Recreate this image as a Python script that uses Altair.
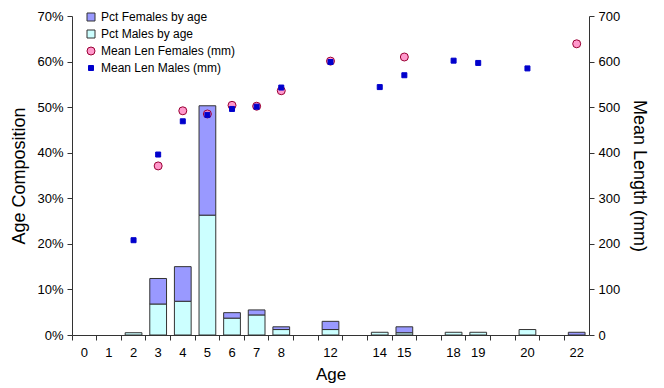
import altair as alt
import pandas as pd

slot_labels = ["0", "1", "2", "3", "4", "5", "6", "7", "8", "", "12", "", "14", "15", "", "18", "19", "", "20", "", "22"]
pct_males = [0, 0, 0.5, 6.8, 7.4, 26.3, 3.7, 4.4, 1.2, 0, 1.2, 0, 0.6, 0.5, 0, 0.6, 0.6, 0, 1.2, 0, 0]
pct_females = [0, 0, 0, 5.6, 7.6, 24.0, 1.2, 1.1, 0.6, 0, 1.8, 0, 0, 1.3, 0, 0, 0, 0, 0, 0, 0.6]
len_females = [None, None, None, 371, 492, 485, 504, 502, 536, None, 601, None, None, 610, None, None, None, None, None, None, 639]
len_males = [None, None, 208, 396, 469, 483, 496, 501, 543, None, 599, None, 544, 570, None, 602, 597, None, 585, None, None]

series = ["Pct Females by age", "Pct Males by age", "Mean Len Females (mm)", "Mean Len Males (mm)"]
fills = ["#9999FF", "#CCFFFF", "#FF99CC", "#0000CC"]
strokes = ["#333333", "#333333", "#990033", "#0000CC"]
shapes = ["square", "square", "circle", "square"]
sizes = [64, 64, 64, 25]

bar_rows = []
for i in range(len(slot_labels)):
    if pct_males[i] > 0:
        bar_rows.append({"slot": i, "pct": pct_males[i] / 100, "series": series[1], "ord": 0})
    if pct_females[i] > 0:
        bar_rows.append({"slot": i, "pct": pct_females[i] / 100, "series": series[0], "ord": 1})
bars_df = pd.DataFrame(bar_rows)

pt_rows = []
for i in range(len(slot_labels)):
    if len_females[i] is not None:
        pt_rows.append({"slot": i, "len": len_females[i], "series": series[2]})
for i in range(len(slot_labels)):
    if len_males[i] is not None:
        pt_rows.append({"slot": i, "len": len_males[i], "series": series[3]})
pts_df = pd.DataFrame(pt_rows)

FONT = "Liberation Sans"
label_arr = "[" + ",".join("'" + s + "'" for s in slot_labels) + "]"

x_enc = alt.X(
    "slot:O",
    scale=alt.Scale(domain=list(range(len(slot_labels))), paddingInner=0, paddingOuter=0),
    axis=alt.Axis(
        title="Age", labelExpr=label_arr + "[datum.value]", bandPosition=0,
        labelOffset=0, labelAngle=0, labelPadding=6, tickSize=5,
        titleFontSize=17, titleFontWeight="normal", titlePadding=7,
    ),
)

color_enc = alt.Color(
    "series:N",
    scale=alt.Scale(domain=series, range=fills),
    legend=alt.Legend(title=None, orient="none", legendX=13, legendY=-5,
                      labelFontSize=12, labelFont=FONT, rowPadding=5,
                      symbolStrokeWidth=1, labelColor="#000000"),
)
stroke_enc = alt.Stroke("series:N", scale=alt.Scale(domain=series, range=strokes), legend=alt.Legend(title=None))
shape_enc = alt.Shape("series:N", scale=alt.Scale(domain=series, range=shapes), legend=alt.Legend(title=None))
size_enc = alt.Size("series:N", scale=alt.Scale(type="ordinal", domain=series, range=sizes), legend=alt.Legend(title=None))

bars = alt.Chart(bars_df).mark_bar(width={"band": 0.68}, strokeWidth=1, opacity=1).encode(
    x=x_enc,
    y=alt.Y("pct:Q", stack="zero",
            scale=alt.Scale(domain=[0, 0.7]),
            axis=alt.Axis(title="Age Composition", format=".0%", values=[0, 0.1, 0.2, 0.3, 0.4, 0.5, 0.6, 0.7],
                          grid=False, tickSize=5, labelPadding=4, titleFontSize=18,
                          titleFontWeight="normal", titlePadding=8)),
    color=color_enc,
    stroke=stroke_enc,
    order=alt.Order("ord:Q"),
)

points = alt.Chart(pts_df).mark_point(filled=True, opacity=1, strokeWidth=1).encode(
    x=x_enc,
    y=alt.Y("len:Q", scale=alt.Scale(domain=[0, 700]),
            axis=alt.Axis(title="Mean Length (mm)", orient="right", values=[0, 100, 200, 300, 400, 500, 600, 700],
                          grid=False, tickSize=5, labelPadding=4, titleFontSize=18,
                          titleFontWeight="normal", titlePadding=10)),
    color=color_enc,
    stroke=stroke_enc,
    shape=shape_enc,
    size=size_enc,
    order=alt.Order("slot:Q"),
)

chart = alt.layer(bars, points).resolve_scale(y="independent").properties(
    width=517, height=319,
    autosize=alt.AutoSizeParams(type="none"),
    padding={"left": 72, "top": 16, "right": 75, "bottom": 53},
    background="white",
).configure_view(stroke=None).configure_axis(
    labelFont=FONT, titleFont=FONT, labelFontSize=13, labelColor="#000000",
    titleColor="#000000", domainColor="#333333", tickColor="#333333",
).configure_legend(labelFont=FONT)

chart.save("out.html", embed_options={"renderer": "svg", "actions": False})
